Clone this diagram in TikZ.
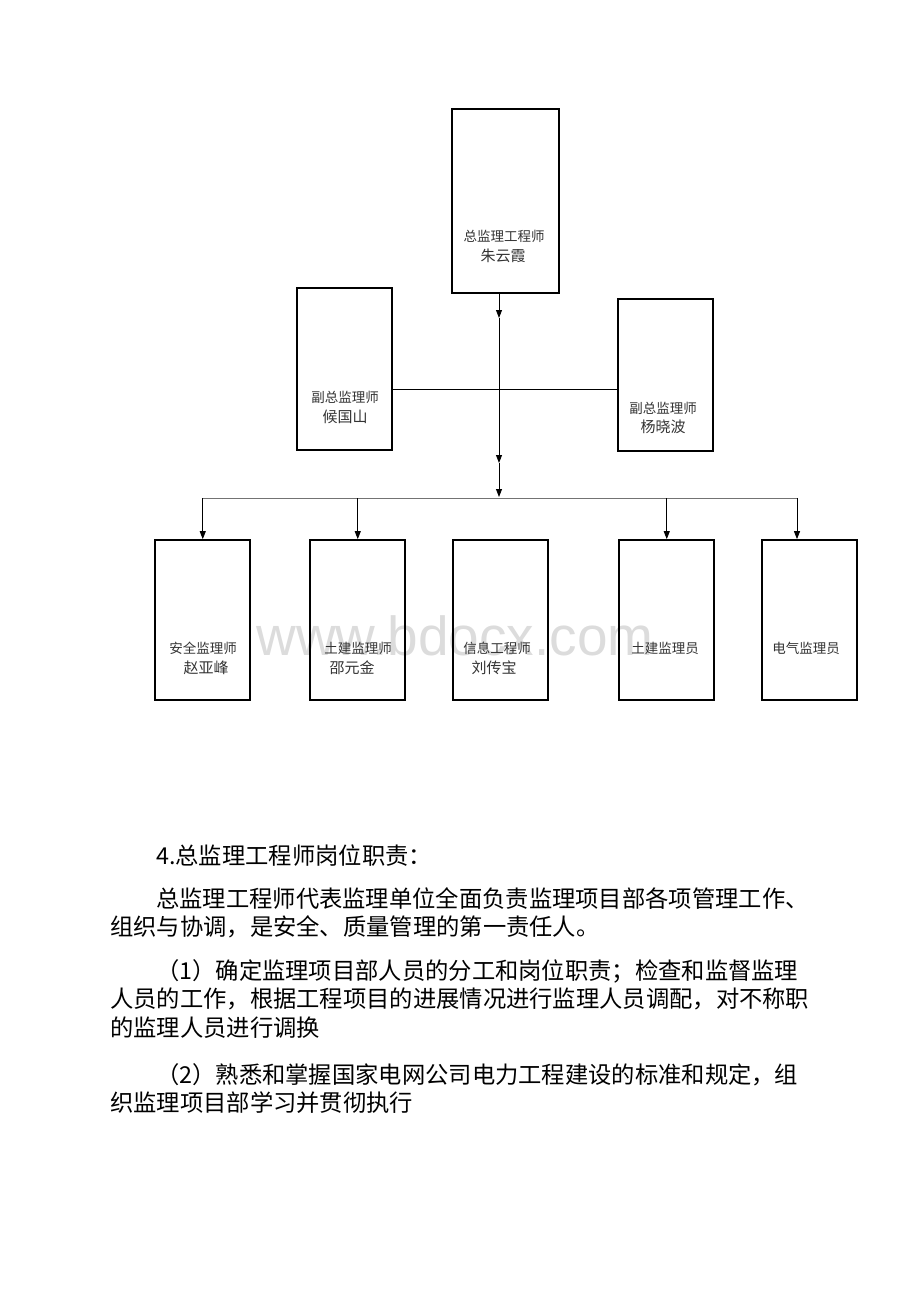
\documentclass[tikz,border=0pt]{standalone}
\usepackage{fontspec}
\setmainfont{Noto Sans CJK SC}
\newfontfamily\wmfont{Liberation Sans}
\usetikzlibrary{arrows.meta}
\definecolor{lblgray}{HTML}{333333}
\definecolor{wmgray}{HTML}{DCDCDC}
\begin{document}
\begin{tikzpicture}[x=1pt,y=-1pt,
  box/.style={draw=black, line width=1.7pt, inner sep=0pt, minimum width=95pt},
  lbl/.style={font=\fontsize{13.5}{16}\selectfont, text=lblgray, inner sep=0pt},
  nm/.style={font=\fontsize{15}{18}\selectfont, text=lblgray, inner sep=0pt},
  conn/.style={line width=0.9pt},
  arr/.style={conn, -{Triangle[length=8pt,width=6pt]}},
  body/.style={anchor=west, inner sep=0pt, font=\fontsize{23.3}{28}\selectfont}
]
\useasboundingbox (0,0) rectangle (920,1302);

% watermark
\node[font=\wmfont\fontsize{55}{55}\selectfont, text=wmgray, anchor=base, inner sep=0pt] (wm) at (455,655) {www.bdocx.com};

% boxes
\node[box, minimum width=107pt, minimum height=184pt] (chief) at (505.5,201) {};
\node[box, minimum height=162pt] (dl) at (344.5,369) {};
\node[box, minimum height=152pt] (dr) at (665.5,375) {};
\node[box, minimum height=160pt] (b1) at (202.75,620) {};
\node[box, minimum height=160pt] (b2) at (357.75,620) {};
\node[box, minimum height=160pt] (b3) at (500.25,620) {};
\node[box, minimum height=160pt] (b4) at (666.75,620) {};
\node[box, minimum height=160pt] (b5) at (809.25,620) {};

% labels
\node[lbl] (t1) at (504,236) {总监理工程师};
\node[nm]  (t2) at (503,256) {朱云霞};
\node[lbl] (l1) at (345,397) {副总监理师};
\node[nm]  (l2) at (345,417) {候国山};
\node[lbl] (r1) at (663,408) {副总监理师};
\node[nm]  (r2) at (663,427) {杨晓波};
\node[lbl] (p1) at (203,648) {安全监理师};
\node[nm]  (p2) at (206,668) {赵亚峰};
\node[lbl] (q1) at (358,648) {土建监理师};
\node[nm]  (q2) at (352,668) {邵元金};
\node[lbl] (s1) at (497,648) {信息工程师};
\node[nm]  (s2) at (494,668) {刘传宝};
\node[lbl] (u1) at (665,648) {土建监理员};
\node[lbl] (v1) at (806,648) {电气监理员};

% connectors
\coordinate (j0) at (499,293);
\coordinate (j1) at (499,318);
\coordinate (j2) at (499,463);
\coordinate (j3) at (499,497);
\coordinate (hl) at (0,389.5);
\coordinate (bl) at (202.75,498);
\coordinate (br) at (797,498);

\draw[arr] (j0) -- (j1);
\draw[arr] (j1) -- (j2);
\draw[arr] (j2) -- (j3);
\draw[conn] (dl.east |- hl) -- (dr.west |- hl);
\draw[conn, draw=black!55] (bl) -- (br);
\draw[arr] (bl) -- (b1.north);
\draw[arr] (b2.north |- bl) -- (b2.north);
\draw[arr] (b4.north |- bl) -- (b4.north);
\draw[arr] (br) -- (br |- b5.north);

% body text
\node[body] (x1) at (156,856) {4.总监理工程师岗位职责：};
\node[body] (x2) at (156,899) {总监理工程师代表监理单位全面负责监理项目部各项管理工作、};
\node[body] (x3) at (110,927) {组织与协调，是安全、质量管理的第一责任人。};
\node[body] (x4) at (156,971) {（1）确定监理项目部人员的分工和岗位职责；检查和监督监理};
\node[body] (x5) at (110,999) {人员的工作，根据工程项目的进展情况进行监理人员调配，对不称职};
\node[body] (x6) at (110,1028) {的监理人员进行调换};
\node[body] (x7) at (156,1075) {（2）熟悉和掌握国家电网公司电力工程建设的标准和规定，组};
\node[body] (x8) at (110,1103) {织监理项目部学习并贯彻执行};
\end{tikzpicture}
\end{document}
